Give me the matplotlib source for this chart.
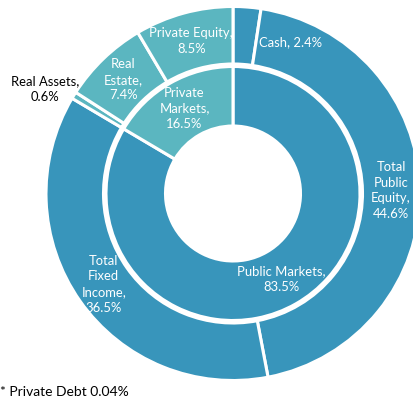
import numpy as np
import matplotlib.pyplot as plt

# outer ring: asset classes, clockwise from 12 o'clock
outer_labels = ["Cash", "Total\nPublic\nEquity", "Total\nFixed\nIncome", "Real Assets",
                "Real\nEstate", "Private Equity"]
outer_values = [2.4, 44.6, 36.5, 0.6, 7.4, 8.5]
outer_group = ["public", "public", "public", "private", "private", "private"]

# inner ring: market type
inner_labels = ["Public Markets", "Private\nMarkets"]
inner_values = [83.5, 16.5]
inner_group = ["public", "private"]

private_debt = 0.04

colors = {"public": "#3895BB", "private": "#5BB6C0"}

plt.rcParams['font.family'] = ['Lato', 'DejaVu Sans']

fig = plt.figure(figsize=(4.13, 4.05), dpi=100)
ax = fig.add_axes([0, 0, 1, 1])
cx, cy = 233, 193.5

wedge_kw = dict(edgecolor='white', linewidth=2.2)
outer, _ = ax.pie(outer_values, radius=187, startangle=90, counterclock=False,
                  colors=[colors[g] for g in outer_group],
                  wedgeprops=dict(width=57.5, **wedge_kw))
inner, _ = ax.pie(inner_values, radius=127, startangle=90, counterclock=False,
                  colors=[colors[g] for g in inner_group],
                  wedgeprops=dict(width=59.5, **wedge_kw))
ax.set_xlim(-cx, 413 - cx)
ax.set_ylim(-(405 - cy), cy)
ax.set_aspect('equal')
ax.axis('off')


def mid_point(w, r):
    a = np.deg2rad((w.theta1 + w.theta2) / 2)
    return r * np.cos(a), r * np.sin(a)


fs = 9.4
ls = 1.38
for w, lab, v in zip(outer, outer_labels, outer_values):
    if lab == "Cash":
        ax.text(58, 151, f"{lab}, {v}%", ha='center', va='center', color='white', fontsize=fs)
    elif lab == "Real Assets":
        ax.text(-188, 104, f"{lab},\n{v}%", ha='center', va='center', color='black',
                fontsize=fs, linespacing=ls)
    else:
        x, y = mid_point(w, 158)
        ax.text(x, y, f"{lab},\n{v}%", ha='center', va='center', color='white', fontsize=fs,
                linespacing=ls)

for w, lab, v in zip(inner, inner_labels, inner_values):
    x, y = mid_point(w, 98)
    ax.text(x, y, f"{lab},\n{v}%", ha='center', va='center', color='white', fontsize=fs,
            linespacing=ls)

fig.text(0.0, 1 - 392 / 405, f"* Private Debt {private_debt}%", ha='left', va='center',
         fontsize=10, color='black')

fig.savefig("out.png", dpi=100)
